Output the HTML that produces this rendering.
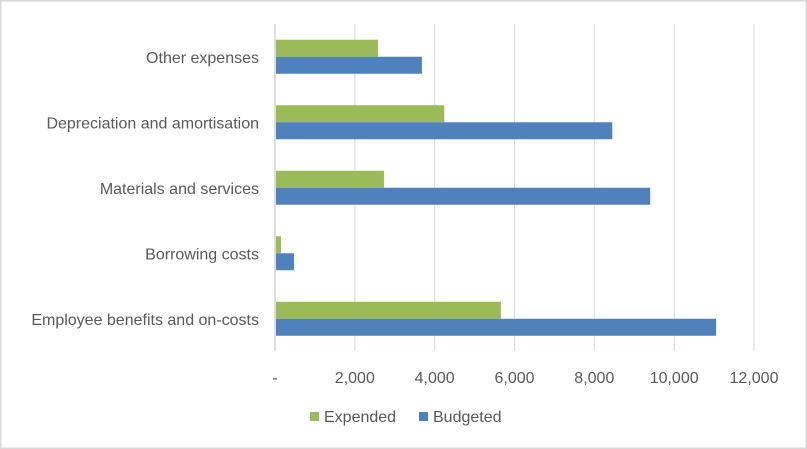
<!DOCTYPE html>
<html><head><meta charset="utf-8"><style>
body{margin:0;background:#fff}
svg{display:block;font-family:"Liberation Sans",sans-serif}
</style></head><body>
<svg id="c" width="807" height="449" xmlns="http://www.w3.org/2000/svg">
<rect x="0.5" y="0.5" width="806" height="448" fill="#fff" stroke="#d9d9d9" stroke-width="2"/>
<g id="grid"></g><g id="bars"></g><g id="labels"></g>
<g>
<rect x="310" y="412" width="9" height="9" fill="#9bbb59"/>
<text x="324" y="422" font-size="16" fill="#595959">Expended</text>
<rect x="419" y="412" width="9" height="9" fill="#4f81bd"/>
<text x="433" y="422" font-size="16" fill="#595959">Budgeted</text>
</g>
</svg>
<script>
const categories=["Other expenses","Depreciation and amortisation","Materials and services","Borrowing costs","Employee benefits and on-costs"];
const expended=[2580,4240,2730,150,5660];
const budgeted=[3680,8450,9400,475,11050];
const ticks=[0,2000,4000,6000,8000,10000,12000];
const tickLabels=["-","2,000","4,000","6,000","8,000","10,000","12,000"];
const NS="http://www.w3.org/2000/svg";
const x0=275,x1=754,xmax=12000,plotTop=24,step=65.5,bh=17;
const xs=v=>x0+v/xmax*(x1-x0);
function mk(t,a,p){const e=document.createElementNS(NS,t);for(const k in a)e.setAttribute(k,a[k]);p.appendChild(e);return e;}
const g=document.getElementById('grid'),b=document.getElementById('bars'),l=document.getElementById('labels');
ticks.forEach((t,i)=>{
 if(i>0){const ln=mk('line',{x1:xs(t),x2:xs(t),y1:plotTop,y2:351,stroke:'#d9d9d9','stroke-width':1},g);
 
 }
 const tx=mk('text',{x:xs(t),y:383,'font-size':16,fill:'#595959','text-anchor':'middle'},l);tx.textContent=tickLabels[i];
 
 
});
const ax=mk('line',{x1:x0,x2:x0,y1:plotTop,y2:351,stroke:'#bfbfbf','stroke-width':1},g);


categories.forEach((c,i)=>{
 const cy=plotTop+step*i+step/2;
 const r1=mk('rect',{x:x0+1,y:cy-bh,width:xs(expended[i])-x0-1,height:bh,fill:'#9bbb59'},b);
 
 
 const r2=mk('rect',{x:x0+1,y:cy,width:xs(budgeted[i])-x0-1,height:bh,fill:'#4f81bd'},b);
 
 
 const t=mk('text',{x:259,y:cy+6,'font-size':16,fill:'#595959','text-anchor':'end'},l);t.textContent=c;
 
 
});
</script>
</body></html>
